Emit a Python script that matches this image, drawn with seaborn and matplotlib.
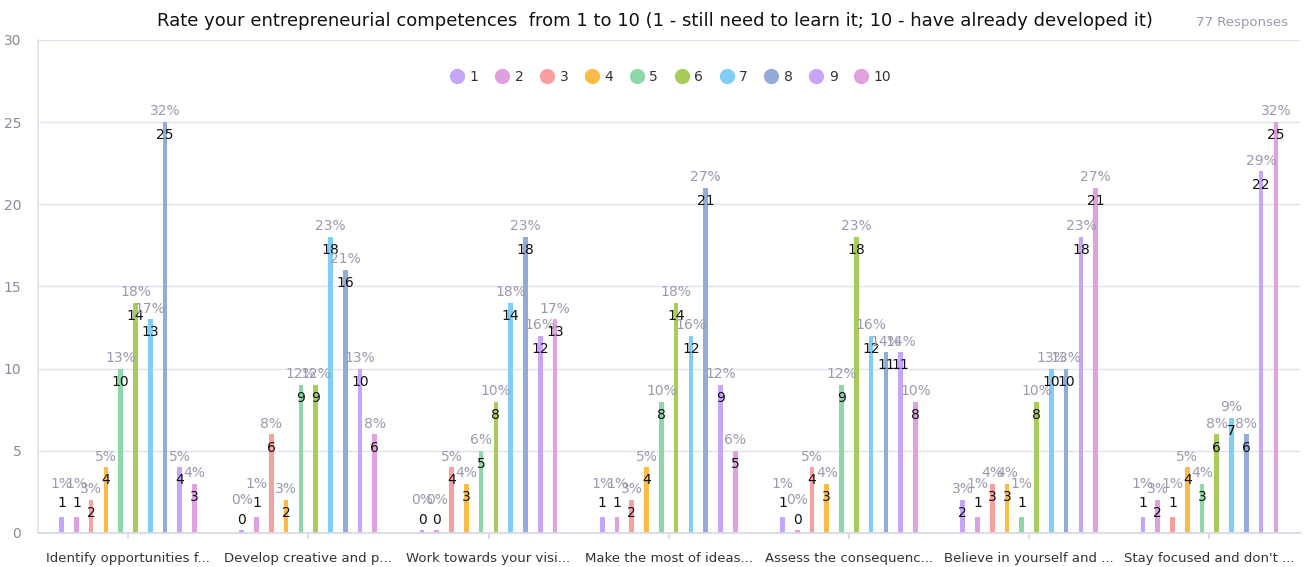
import matplotlib
matplotlib.use("Agg")
import matplotlib.pyplot as plt
from matplotlib.lines import Line2D
import seaborn as sns
import pandas as pd

categories = [
    "Identify opportunities f...",
    "Develop creative and p...",
    "Work towards your visi...",
    "Make the most of ideas...",
    "Assess the consequenc...",
    "Believe in yourself and ...",
    "Stay focused and don't ...",
]
ratings = ["1", "2", "3", "4", "5", "6", "7", "8", "9", "10"]
counts = [
    [1, 1, 2, 4, 10, 14, 13, 25, 4, 3],
    [0, 1, 6, 2, 9, 9, 18, 16, 10, 6],
    [0, 0, 4, 3, 5, 8, 14, 18, 12, 13],
    [1, 1, 2, 4, 8, 14, 12, 21, 9, 5],
    [1, 0, 4, 3, 9, 18, 12, 11, 11, 8],
    [2, 1, 3, 3, 1, 8, 10, 10, 18, 21],
    [1, 2, 1, 4, 3, 6, 7, 6, 22, 25],
]
total_responses = 77
colors = ["#C5A6F8", "#DFA0DF", "#F8A0A0", "#FBBC47", "#8ED7A8",
          "#A8CC5C", "#80CEF8", "#94ABD8", "#C7A6F8", "#E1A0E0"]
title = "Rate your entrepreneurial competences  from 1 to 10 (1 - still need to learn it; 10 - have already developed it)"

rows = []
for ci, cat in enumerate(categories):
    for ri, r in enumerate(ratings):
        rows.append({"cat": cat, "rating": r, "count": counts[ci][ri]})
df = pd.DataFrame(rows)

sns.set_theme(style="white")
plt.rcParams["font.family"] = ["DejaVu Sans"]

fig = plt.figure(figsize=(13.1, 5.67), dpi=100)
ax = fig.add_axes([0.029, 0.06, 0.963, 0.8695])

sns.barplot(data=df, x="cat", y="count", hue="rating", order=categories,
            hue_order=ratings, palette=colors, width=0.82, dodge=True,
            legend=False, ax=ax, saturation=1, errorbar=None)

bar_w = 0.026
for hi, cont in enumerate(ax.containers):
    for ci, patch in enumerate(cont.patches):
        v = counts[ci][hi]
        cx = patch.get_x() + patch.get_width() / 2
        patch.set_width(bar_w)
        patch.set_x(cx - bar_w / 2)
        patch.set_height(max(v, 0.18))
        patch.set_edgecolor("none")
        pct = round(v / total_responses * 100)
        if v >= 2:
            cy = v - 0.8
            py = v + 0.65
        else:
            cy = v + 0.8
            py = v + 2.0
        ax.text(cx, cy, str(v), ha="center", va="center", fontsize=10,
                color="#111111", zorder=5)
        ax.text(cx, py, f"{pct}%", ha="center", va="center", fontsize=10,
                color="#9A9AAE", zorder=5)

ax.set_ylim(0, 30)
ax.set_xlim(-0.5, len(categories) - 0.5)
ax.set_yticks(range(0, 31, 5))
ax.yaxis.grid(True, color="#E2E2EE", linewidth=1)
ax.set_axisbelow(True)
ax.set_xlabel("")
ax.set_ylabel("")
for s in ["top", "right"]:
    ax.spines[s].set_visible(False)
ax.spines["left"].set_color("#E2E2EE")
ax.spines["bottom"].set_color("#D8D8E4")
ax.tick_params(axis="y", labelsize=10, labelcolor="#8A8A9A", length=0, pad=12)
ax.tick_params(axis="x", labelsize=9.5, labelcolor="#333333", length=4,
               color="#D8D8E4", pad=10, bottom=True)

handles = [Line2D([0], [0], marker="o", linestyle="", markersize=11,
                  markerfacecolor=c, markeredgecolor="none") for c in colors]
ax.legend(handles, ratings, loc="upper center", bbox_to_anchor=(0.5, 0.965),
          ncol=10, frameon=False, fontsize=10, handletextpad=0.1,
          columnspacing=0.9, handlelength=1.6, labelcolor="#333333")

fig.text(0.5, 0.963, title, ha="center", va="center", fontsize=13,
         color="#111111")
fig.text(0.983, 0.96, "77 Responses", ha="right", va="center", fontsize=9.5,
         color="#9A9AAE")

fig.savefig("out.png", dpi=100)
